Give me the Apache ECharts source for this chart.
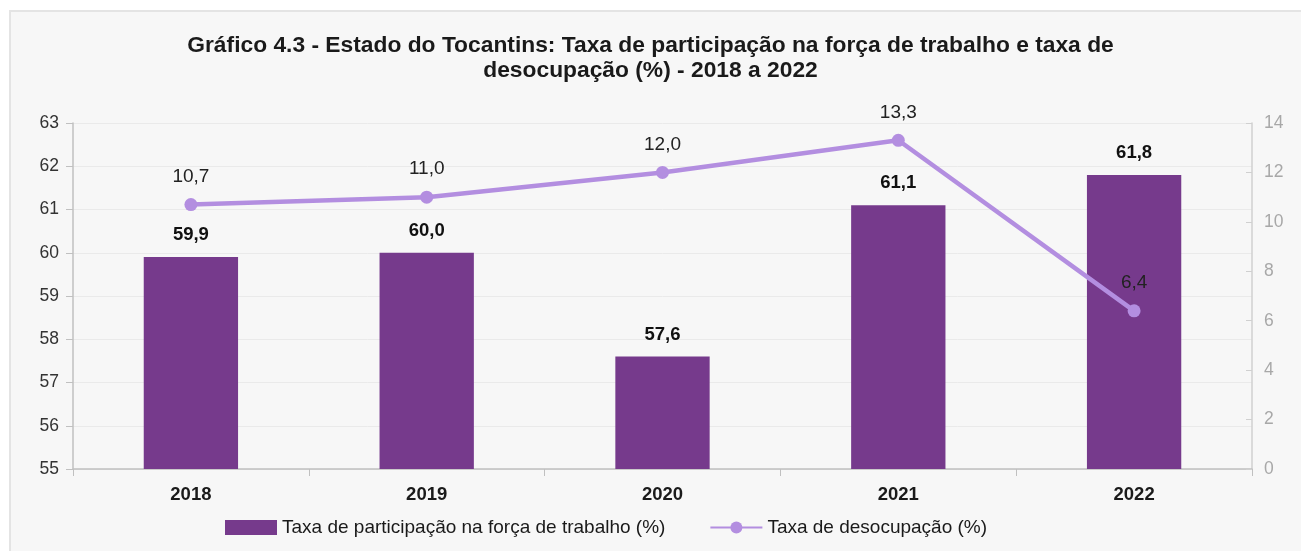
<!DOCTYPE html>
<html>
<head>
<meta charset="utf-8">
<script src="https://cdn.jsdelivr.net/npm/echarts@6/dist/echarts.min.js"></script>
<style>
html,body{margin:0;padding:0;background:#ffffff;overflow:hidden;}
#frame{position:absolute;left:9px;top:10px;width:1300px;height:550px;background:#f7f7f7;border:2px solid #e4e4e4;box-sizing:border-box;}
#chart{position:absolute;left:0;top:0;width:1301px;height:551px;}
</style>
</head>
<body>
<div id="frame"></div>
<div id="chart"></div>
<script>
const titleText = 'Gráfico 4.3 - Estado do Tocantins: Taxa de participação na força de trabalho e taxa de\ndesocupação (%) - 2018 a 2022';
const categories = ['2018', '2019', '2020', '2021', '2022'];
const participacao = [59.9, 60.0, 57.6, 61.1, 61.8];
const desocupacao = [10.7, 11.0, 12.0, 13.3, 6.4];
const seriesNames = ['Taxa de participação na força de trabalho (%)', 'Taxa de desocupação (%)'];

const fmt = v => v.toFixed(1).replace('.', ',');
const FONT = '"Liberation Sans", Arial, sans-serif';

const chart = echarts.init(document.getElementById('chart'), null, {renderer: 'canvas'});
chart.setOption({
  backgroundColor: 'transparent',
  animation: false,
  textStyle: {fontFamily: FONT},
  title: {
    text: titleText,
    left: 'center',
    top: 28,
    textStyle: {fontFamily: FONT, fontSize: 22.8, fontWeight: 'bold', color: '#1a1a1a', lineHeight: 25, align: 'center'}
  },
  legend: {
    bottom: 9,
    left: 220,
    itemWidth: 52,
    itemHeight: 15,
    itemGap: 44,
    textStyle: {fontFamily: FONT, fontSize: 19, color: '#1a1a1a'},
    data: [
      {name: seriesNames[0], icon: 'rect'},
      {name: seriesNames[1]}
    ]
  },
  grid: {left: 73, right: 49, top: 123, bottom: 82, containLabel: false},
  xAxis: {
    type: 'category',
    data: categories,
    axisLine: {lineStyle: {color: '#c0c0c0', width: 1.5}},
    axisTick: {show: true, length: 7, lineStyle: {color: '#c0c0c0'}},
    axisLabel: {fontFamily: FONT, fontSize: 18.5, fontWeight: 'bold', color: '#1a1a1a', margin: 16}
  },
  yAxis: [
    {
      type: 'value', min: 55, max: 63, interval: 1,
      axisLine: {show: true, lineStyle: {color: '#c0c0c0', width: 1.5}},
      axisTick: {show: true, length: 7, lineStyle: {color: '#c0c0c0'}},
      axisLabel: {fontFamily: FONT, fontSize: 17.5, color: '#333', margin: 14},
      splitLine: {show: true, lineStyle: {color: '#eaeaea'}}
    },
    {
      type: 'value', min: 0, max: 14, interval: 2,
      axisLine: {show: true, lineStyle: {color: '#d0d0d0', width: 1.5}},
      axisTick: {show: true, inside: true, length: 6, lineStyle: {color: '#d0d0d0'}},
      axisLabel: {fontFamily: FONT, fontSize: 17.5, color: '#a8a8a8', margin: 12},
      splitLine: {show: false}
    }
  ],
  series: [
    {
      name: seriesNames[0],
      type: 'bar',
      yAxisIndex: 0,
      data: participacao,
      barWidth: '40%',
      itemStyle: {color: '#763a8c'},
      label: {show: true, position: 'top', distance: 12.5, formatter: p => fmt(p.value),
        fontFamily: FONT, fontSize: 18.5, fontWeight: 'bold', color: '#111'}
    },
    {
      name: seriesNames[1],
      type: 'line',
      yAxisIndex: 1,
      data: desocupacao,
      symbol: 'circle',
      symbolSize: 13,
      lineStyle: {color: '#b38ee0', width: 4.5},
      itemStyle: {color: '#b38ee0'},
      label: {show: true, position: 'top', distance: 12, formatter: p => fmt(p.value),
        fontFamily: FONT, fontSize: 19, color: '#222'},
      z: 5
    }
  ]
});
</script>
</body>
</html>
